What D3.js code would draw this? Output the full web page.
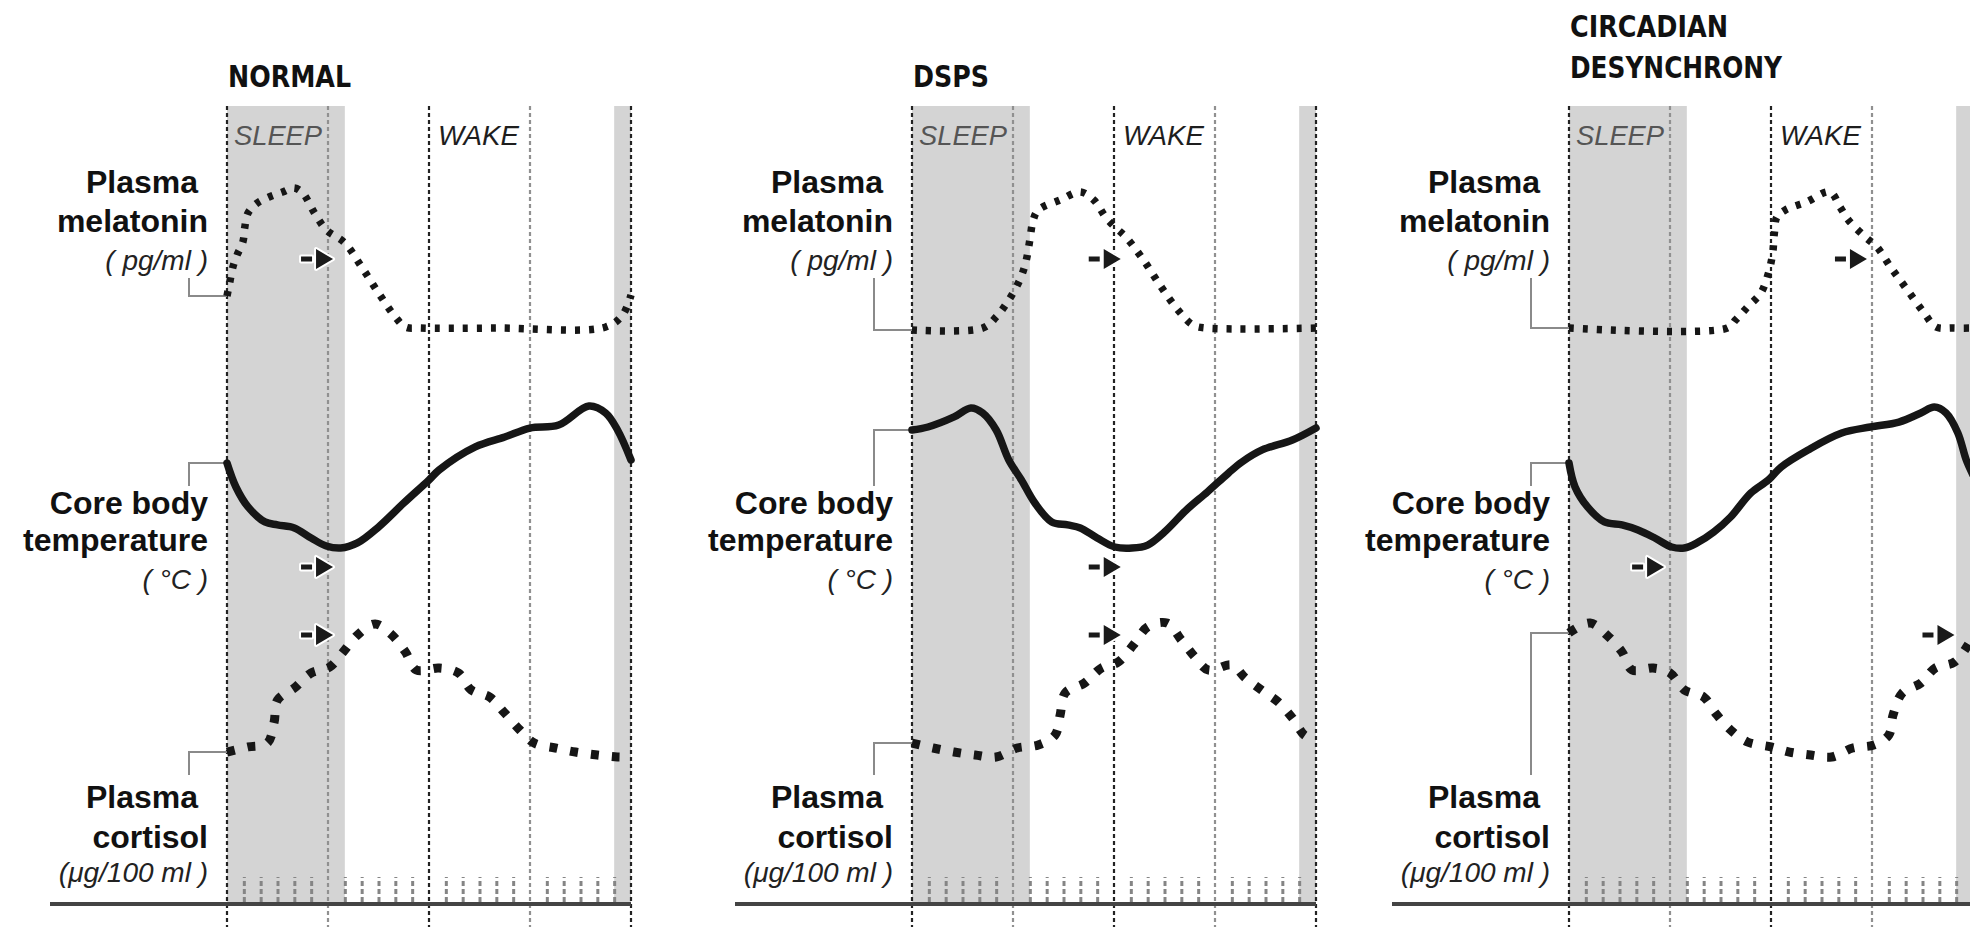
<!DOCTYPE html>
<html>
<head>
<meta charset="utf-8">
<script src="https://cdn.jsdelivr.net/npm/d3@7"></script>
<style>
  html, body { margin: 0; padding: 0; background: #fff; }
  svg { display: block; }
</style>
</head>
<body>
<svg id="chart" width="1970" height="927"></svg>
<script>
// ---- data ---------------------------------------------------------------
// Hours run 0..24 across each panel; levels are relative (0 = trough, 100 = peak).
const panelTitles = [["NORMAL"], ["DSPS"], ["CIRCADIAN", "DESYNCHRONY"]];
const guideHours = [0, 6, 12, 18, 24];
const sleepSpans = [[0, 7], [23, 24]];
const stateLabels = ["SLEEP", "WAKE"];

const melatoninLabel = ["Plasma", "melatonin", "( pg/ml )"];
const temperatureLabel = ["Core body", "temperature", "( °C )"];
const cortisolLabel = ["Plasma", "cortisol", "(μg/100 ml )"];

// NORMAL
const normalMelatonin = [[0,22.7],[0.15,31],[0.35,42],[0.6,50],[0.95,59],[1.05,68],[1.25,78],[1.8,84.7],[2.5,88.7],[3.3,92],[4,94.7],[4.5,91.3],[5.2,78],[5.9,66.7],[7,58],[8,42],[9,24.7],[10,8.7],[10.6,2],[11.5,1.3],[16,1.3],[22.5,2],[23.5,10],[24,23.3]];
const normalTemperature = [[0,58],[0.53,42],[1.25,28.7],[2.25,18.7],[3,16.7],[4,14.7],[5,8],[5.9,2.7],[6.75,1.3],[7.75,4.7],[9,15.3],[10.5,31.3],[12,46.7],[12.6,53.3],[14.75,68.7],[16.5,75.3],[18,81.3],[19.7,83.3],[21.5,96],[22.5,91.3],[23.2,80],[24,60]];
const normalCortisol = [[0,5.3],[1.25,8.7],[2.4,11.3],[2.8,25.3],[3,40],[4,48],[5,58],[6.1,62],[6.9,72],[7.75,83.3],[8.8,90.7],[9.8,83.3],[10.6,72],[11.25,60],[12.6,61.3],[13.75,58],[14.5,46.7],[15.6,42],[16.5,31.3],[17.4,20],[18.25,11.3],[19.5,8],[20.7,5.3],[22,3.3],[23.2,2],[24,2]];
const normalArrows = [6.3, 6.3, 6.3];

// DSPS
const dspsMelatonin = [[0,0],[4.2,1.3],[5,8.7],[5.75,20],[6.4,33.3],[6.75,44.7],[7,60],[7.2,73.3],[7.5,80],[8.8,86.7],[10,92],[10.8,86.7],[11.5,75.3],[12.05,68.7],[12.7,62],[13.75,46.7],[14.8,28.7],[15.8,13.3],[16.7,3.3],[17.5,1.3],[24,1.3]];
const dspsTemperature = [[0,80],[0.95,82],[2.5,88.7],[3.5,94.7],[4.2,91.3],[5,80],[5.75,60],[6.5,46.7],[7.3,31.3],[8.3,18.7],[9.25,16.7],[10,14.7],[11,8],[12.05,2],[13.07,1.3],[14,3.3],[15,12],[16.3,26.7],[17.55,38.7],[18.8,51.3],[19.6,58.7],[20.8,66.7],[22.6,73.3],[24,81.3]];
const dspsCortisol = [[0,11.3],[1.25,8],[2.5,5.3],[3.75,3.3],[5,2],[6.25,8],[7.5,10],[8.5,16.7],[8.8,30],[9.1,44.7],[10.25,51.3],[11.25,61.3],[12.25,65.3],[13.15,76.7],[14,88.7],[15.15,91.3],[16,80],[16.8,68.7],[17.6,60],[19,63.3],[19.8,54.7],[20.75,46.7],[21.75,38.7],[22.6,28],[23.3,16.7],[24,13.3]];
const dspsArrows = [12.4, 12.4, 12.4];

// CIRCADIAN DESYNCHRONY
const desyncMelatonin = [[0,1.3],[9.4,1.3],[9.9,6.7],[10.6,15.3],[11.4,24.7],[11.85,38],[12.1,51.3],[12.2,64.7],[12.35,75.3],[12.85,80],[14.1,85.3],[15.5,92],[16.1,82],[16.6,73.3],[17.6,62],[18.3,55.3],[19.1,42],[20.1,26.7],[21.1,11.3],[21.8,2],[22.8,1.3],[24,1.3]];
const desyncTemperature = [[0,58],[0.36,42],[1.1,28.7],[2.1,18.7],[3.15,16.7],[4.1,13.3],[5.1,8],[6.1,2],[6.85,1.3],[7.6,4.7],[8.6,12],[9.6,22],[10.8,38],[11.85,46.7],[12.6,55.3],[14.2,66.7],[16.2,78],[17.9,82],[19.6,85.3],[20.9,91.3],[21.7,95.3],[22.4,91.3],[23.1,78],[23.6,60],[24,50]];
const desyncCortisol = [[0,84.7],[1.25,91.3],[2.25,83.3],[3.15,72],[3.75,60],[5,61.3],[6,58],[6.85,46.7],[8,42],[8.7,31.3],[9.6,20],[10.6,12],[12,8.7],[13.1,5.3],[14.35,3.3],[15.6,2],[16.85,8],[18.1,10],[19,16.7],[19.25,30],[19.8,44.7],[20.9,51.3],[21.75,61.3],[22.9,65.3],[23.7,76.7],[24,83.3]];
const desyncArrows = [17.7, 5.65, 22.9];

// Arrow marker level for each series (melatonin, temperature, cortisol)
const arrowLevels = [47.3, -11.3, 83.3];

// ---- layout -------------------------------------------------------------
const panelX = [227, 912, 1569];
const panelW = 404;
const plotTop = 106, axisY = 904, plotBottom = 927;

const panels = [
  { title: panelTitles[0], series: [normalMelatonin, normalTemperature, normalCortisol], arrows: normalArrows },
  { title: panelTitles[1], series: [dspsMelatonin, dspsTemperature, dspsCortisol], arrows: dspsArrows },
  { title: panelTitles[2], series: [desyncMelatonin, desyncTemperature, desyncCortisol], arrows: desyncArrows }
];

// one vertical band per series
const yScales = [
  d3.scaleLinear().domain([0, 100]).range([330, 180]),
  d3.scaleLinear().domain([0, 100]).range([550, 400]),
  d3.scaleLinear().domain([0, 100]).range([760, 610])
];

const seriesStyles = [
  { width: 7.5, dash: "5 9", cap: "butt" },
  { width: 7.5, dash: null, cap: "round" },
  { width: 9, dash: "8 13", cap: "butt" }
];

const labelBlocks = [
  { lines: melatoninLabel, baselines: [193, 232, 270], leaderFrom: 278 },
  { lines: temperatureLabel, baselines: [514, 551, 589], leaderFrom: 486 },
  { lines: cortisolLabel, baselines: [808, 848, 882], leaderFrom: 775 }
];

const svg = d3.select("#chart");
const labelFont = "'Liberation Sans', Arial, sans-serif";
const titleFont = "'Liberation Sans Narrow', 'DejaVu Sans Condensed', 'Liberation Sans', sans-serif";
const titleWidths = { "NORMAL": 123, "DSPS": 76, "CIRCADIAN": 158, "DESYNCHRONY": 212 };
const titleBaselines = [[87], [87], [37, 78]];

panels.forEach((p, pi) => {
  const x0 = panelX[pi];
  const x = d3.scaleLinear().domain([0, 24]).range([x0, x0 + panelW]);
  const g = svg.append("g").attr("class", "panel");

  // sleep periods
  g.selectAll("rect.sleep").data(sleepSpans).join("rect")
    .attr("class", "sleep")
    .attr("x", d => x(d[0])).attr("width", d => x(d[1]) - x(d[0]))
    .attr("y", plotTop).attr("height", axisY - plotTop)
    .attr("fill", "#d4d4d4");

  // hourly ticks
  const hourAxis = d3.axisTop(x)
    .tickValues(d3.range(0, 25).filter(h => h % 6 !== 0))
    .tickSize(25).tickFormat("");
  const ax = g.append("g").attr("transform", `translate(0,${axisY - 2})`).call(hourAxis);
  ax.select(".domain").remove();
  ax.selectAll(".tick line")
    .attr("stroke", "#858585").attr("stroke-width", 3).attr("stroke-dasharray", "5 3");

  // 6-hour guides
  g.selectAll("line.guide").data(guideHours).join("line")
    .attr("class", "guide")
    .attr("x1", d => x(d)).attr("x2", d => x(d))
    .attr("y1", plotTop).attr("y2", plotBottom)
    .attr("stroke", d => d % 12 === 0 ? "#222" : "#909090")
    .attr("stroke-width", 2.2).attr("stroke-dasharray", "4 3");

  // baseline
  g.append("line")
    .attr("x1", x0 - 177).attr("x2", x(24))
    .attr("y1", axisY).attr("y2", axisY)
    .attr("stroke", "#444").attr("stroke-width", 4);

  // state labels
  g.append("text").text(stateLabels[0])
    .attr("x", x(0) + 7).attr("y", 145)
    .attr("font-family", labelFont).attr("font-style", "italic")
    .attr("font-size", 28).attr("fill", "#555")
    .attr("textLength", 88).attr("lengthAdjust", "spacingAndGlyphs");
  g.append("text").text(stateLabels[1])
    .attr("x", x(12) + 9).attr("y", 145)
    .attr("font-family", labelFont).attr("font-style", "italic")
    .attr("font-size", 28).attr("fill", "#1e1e1e")
    .attr("textLength", 81).attr("lengthAdjust", "spacingAndGlyphs");

  // title
  p.title.forEach((t, ti) => {
    g.append("text").text(t)
      .attr("x", x0 + 1).attr("y", titleBaselines[pi][ti])
      .attr("font-family", titleFont).attr("font-weight", "bold")
      .attr("font-size", 31).attr("fill", "#111")
      .attr("textLength", titleWidths[t]).attr("lengthAdjust", "spacingAndGlyphs");
  });

  // series
  p.series.forEach((data, si) => {
    const y = yScales[si];
    const st = seriesStyles[si];
    const lb = labelBlocks[si];
    const startY = y(data[0][1]);

    // leader from label to curve start
    g.append("path")
      .attr("d", `M${x0 - 38},${lb.leaderFrom} V${startY} H${x0}`)
      .attr("fill", "none").attr("stroke", "#8a8a8a").attr("stroke-width", 2);

    const line = d3.line()
      .x(d => x(d[0])).y(d => y(d[1]))
      .curve(d3.curveCatmullRom.alpha(0.5));
    const path = g.append("path").datum(data)
      .attr("d", line)
      .attr("fill", "none").attr("stroke", "#161616")
      .attr("stroke-width", st.width)
      .attr("stroke-linecap", st.cap).attr("stroke-linejoin", "round");
    if (st.dash) path.attr("stroke-dasharray", st.dash);

    // shift marker
    const ag = g.append("g")
      .attr("transform", `translate(${x(p.arrows[si])},${y(arrowLevels[si])})`);
    ag.append("path")
      .attr("d", "M0,0 L-17,-10 L-17,10 Z M-32,-2.5 H-21 V2.5 H-32 Z")
      .attr("fill", "#1a1a1a").attr("stroke", "#fff").attr("stroke-width", 4)
      .attr("stroke-linejoin", "round").attr("paint-order", "stroke");

    // label text
    lb.lines.forEach((t, li) => {
      const italic = li === 2;
      g.append("text").text(t)
        .attr("x", (si !== 1 && li === 0) ? x0 - 29 : x0 - 19)
        .attr("y", lb.baselines[li])
        .attr("text-anchor", "end")
        .attr("font-family", labelFont)
        .attr("font-weight", italic ? "normal" : "bold")
        .attr("font-style", italic ? "italic" : "normal")
        .attr("font-size", italic ? 28 : 32)
        .attr("fill", italic ? "#222" : "#111");
    });
  });
});
</script>
</body>
</html>
